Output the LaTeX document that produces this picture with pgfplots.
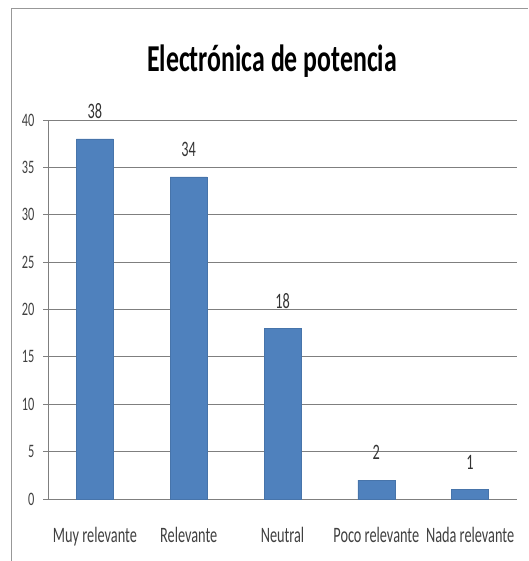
\documentclass[border=0pt]{standalone}
\usepackage{fontspec}
\setmainfont{Carlito}[FakeStretch=0.65]
\newfontfamily\titlefont{Carlito}[FakeStretch=0.68]
\usepackage{pgfplots}
\pgfplotsset{compat=1.18}
\definecolor{barblue}{HTML}{4F81BD}
\definecolor{gridgray}{HTML}{7F7F7F}
\definecolor{labgray}{HTML}{404040}

\begin{document}
\begin{tikzpicture}[x=1pt,y=1pt]
  \useasboundingbox (0,0) rectangle (528,-561);
  \draw[gridgray!80, line width=1pt] (11,-561) -- (11,-9) -- (528,-9);
  \node[anchor=base, font=\titlefont\bfseries\fontsize{38}{44}\selectfont] at (272,-72) {Electrónica de potencia};
  \begin{axis}[
      at={(48pt,-499pt)}, anchor=south west,
      scale only axis, width=469pt, height=379pt,
      ybar, bar width=37pt,
      xmin=-0.5, xmax=4.5, ymin=0, ymax=40,
      ytick={0,5,...,40},
      xtick={0,1,2,3,4},
      xticklabels={Muy relevante, Relevante, Neutral, Poco relevante, Nada relevante},
      extra x ticks={-0.5,0.5,1.5,2.5,3.5,4.5},
      extra x tick labels={},
      extra x tick style={major tick length=5pt, grid=none},
      major x tick style={draw=none},
      axis lines*=left,
      axis line style={gridgray, line width=1pt},
      ymajorgrids,
      grid style={gridgray, line width=1pt},
      tick align=outside,
      major tick length=5pt,
      tick style={gridgray, line width=1pt},
      /pgf/number format/assume math mode=true,
      xticklabel style={font=\fontsize{22}{26}\selectfont, text=labgray, anchor=base, yshift=-38pt},
      yticklabel style={font=\fontsize{19}{22}\selectfont, text=labgray, anchor=east, xshift=-5pt},
      nodes near coords,
      every node near coord/.append style={font=\fontsize{22}{26}\selectfont, text=black!80, anchor=south, inner sep=0pt, yshift=20pt},
    ]
    \addplot[fill=barblue, draw=barblue!90!black] coordinates {(0,38) (1,34) (2,18) (3,2) (4,1)};
  \end{axis}
\end{tikzpicture}
\end{document}
